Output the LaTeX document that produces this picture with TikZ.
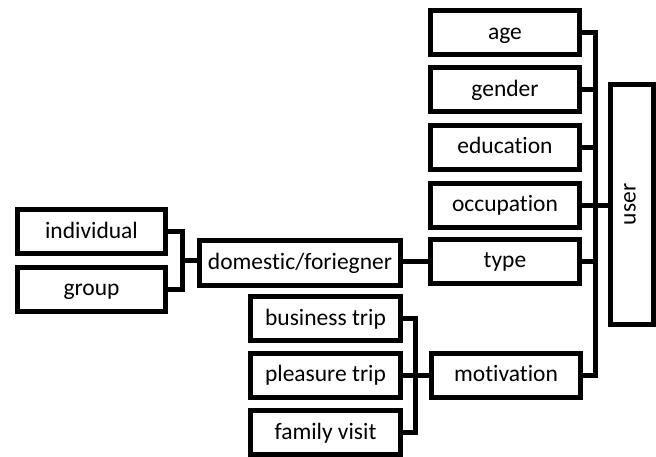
\documentclass[tikz,border=0pt]{standalone}
\usepackage{fontspec}
\setmainfont{Carlito}[Ligatures=NoCommon]
\begin{document}
\begin{tikzpicture}[x=1pt,y=-1pt,
  box/.style={draw=black,line width=5pt,fill=white,inner sep=0pt,
    minimum width=149pt,minimum height=44pt,font=\fontsize{23.5}{28}\selectfont,
    text height=18pt,text depth=5pt},
  link/.style={line width=5pt,line join=miter}]
\useasboundingbox (0,0) rectangle (656,456);
% right column
\node[box] (age) at (505,32.5) {age};
\node[box] (gen) at (505,89.5) {gender};
\node[box] (edu) at (505,147) {education};
\node[box] (occ) at (505,205) {occupation};
\node[box] (typ) at (505,261) {type};
\node[box] (mot) at (506,375) {motivation};
\node[box,minimum width=43pt,minimum height=240pt,text height=,text depth=] (usr) at (632,204.5) {\rotatebox{90}{\vphantom{g}user}};
% left
\node[box,minimum width=148pt] (ind) at (91.5,231.5) {individual};
\node[box,minimum width=148pt] (grp) at (91.5,289) {group};
\node[box,minimum width=201pt,minimum height=45pt] (dom) at (300,263) {domestic/foriegner};
\node[box,minimum width=150pt] (bus) at (325.5,318.5) {business trip};
\node[box,minimum width=150pt] (ple) at (325.5,375) {pleasure trip};
\node[box,minimum width=150pt] (fam) at (325.5,432.5) {family visit};
% bus coordinates
\coordinate (bx) at (595,0);
\coordinate (lx) at (182,0);
\coordinate (mx) at (415,0);
\coordinate (lmid) at (182,260);
% connectors
\draw[link] (age.east) -| (bx |- mot.east) -- (mot.east);
\draw[link] (gen.east) -- (gen.east -| bx);
\draw[link] (edu.east) -- (edu.east -| bx);
\draw[link] (occ.east) -- (occ.east -| bx);
\draw[link] (typ.east) -- (typ.east -| bx);
\draw[link] (occ.east -| bx) -- (usr.west |- occ.east);
\draw[link] (dom.east |- typ.west) -- (typ.west);
\draw[link] (ind.east) -| (lx |- grp.east) -- (grp.east);
\draw[link] (lmid) -- (dom.west |- lmid);
\draw[link] (bus.east) -| (mx |- fam.east) -- (fam.east);
\draw[link] (ple.east) -- (mot.west);
\end{tikzpicture}
\end{document}
